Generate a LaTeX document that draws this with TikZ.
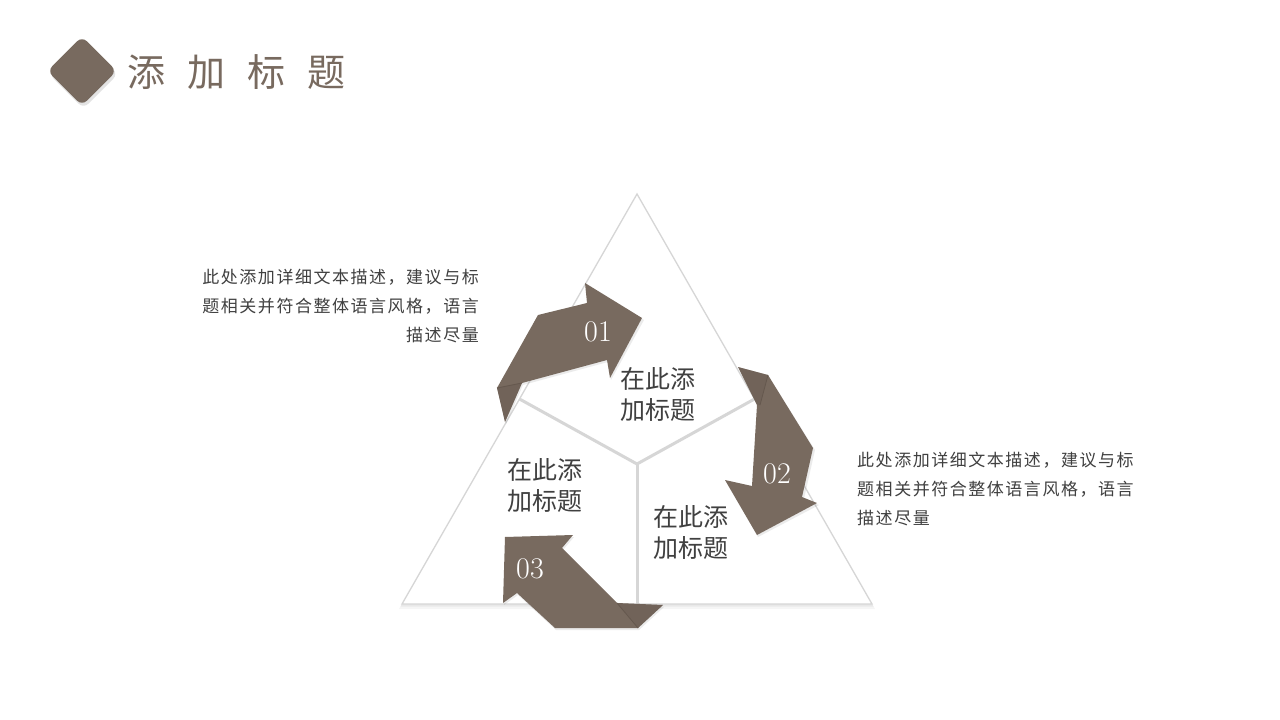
\documentclass[tikz,border=0pt]{standalone}
\usepackage{fontspec}
\newfontfamily\cjk{Noto Sans CJK SC}
\newfontfamily\cjkw{Noto Sans CJK SC}[LetterSpace=9]
\usetikzlibrary{shadows}
\definecolor{mybrown}{HTML}{786A5F}
\definecolor{myfold}{HTML}{65584E}
\definecolor{mytext}{HTML}{404040}
\definecolor{myline}{HTML}{D6D6D6}
\tikzset{
  arrowshape/.style={fill=mybrown, draw=none},
  foldline/.style={draw=myfold, line width=0.8},
  numlabel/.style={text=white, font=\fontsize{30}{30}\selectfont, inner sep=0},
  seglabel/.style={text=mytext, font=\cjk\fontsize{25}{31}\selectfont, align=left, inner sep=0},
  desc/.style={text=mytext, font=\cjkw\fontsize{17}{29}\selectfont, inner sep=0},
  divider/.style={draw=myline, line width=3}
}
\begin{document}
\begin{tikzpicture}[x=1pt,y=-1pt]
\useasboundingbox (0,0) rectangle (1280,720);
\fill[white] (0,0) rectangle (1280,720);

% header
\node[rectangle, rounded corners=7, fill=mybrown, minimum size=49, rotate=45,
      drop shadow={opacity=0.22, shadow xshift=1.5pt, shadow yshift=-3pt}] (dia) at (82,71) {};
\node[anchor=west, text=mybrown, inner sep=0, font=\cjk\fontsize{38}{38}\selectfont] (title) at (127,72)
  {添\hspace{22pt}加\hspace{22pt}标\hspace{22pt}题};

% triangle
\coordinate (A) at (637,194);
\coordinate (B) at (402,604);
\coordinate (C) at (872,604);
\coordinate (O) at (637,464);
\coordinate (MAB) at (519.5,399);
\coordinate (MAC) at (754.5,399);
\coordinate (MBC) at (637,604);
\fill[black, opacity=0.04] ([yshift=-5pt]A) -- ([yshift=-5pt,xshift=-3pt]B) -- ([yshift=-5pt,xshift=3pt]C) -- cycle;
\fill[black, opacity=0.05] ([yshift=-2.5pt]A) -- ([yshift=-2.5pt,xshift=-1.5pt]B) -- ([yshift=-2.5pt,xshift=1.5pt]C) -- cycle;
\filldraw[fill=white, draw=myline, line width=1.3] (A) -- (B) -- (C) -- cycle;
\draw[divider] (MAB) -- (O) -- (MAC);
\draw[divider] (O) -- (MBC);

% arrow 01
\fill[black, opacity=0.08] (506,424) -- (498,390) -- (539,317) -- (588,305) -- (586,285) -- (644,320) -- (611,380) -- (608,362) -- (523,385) -- cycle;
\fill[arrowshape] (505,422) -- (497,388) -- (538,315) -- (587,303) -- (585,283) -- (642,318) -- (610,378) -- (607,360) -- (522,383) -- cycle;
\fill[myfold, opacity=0.35] (505,422) -- (497,388) -- (522,383) -- cycle;
\draw[foldline] (497,388) -- (522,383);

% arrow 02
\fill[black, opacity=0.08] (739,369) -- (769,377) -- (815,450) -- (804,499) -- (819,505) -- (758,537) -- (726,482) -- (753,488) -- (758,407) -- cycle;
\fill[arrowshape] (738,367) -- (768,375) -- (813,448) -- (802,497) -- (817,503) -- (757,535) -- (725,480) -- (752,486) -- (757,405) -- cycle;
\fill[myfold, opacity=0.35] (738,367) -- (768,375) -- (760,405) -- (757,405) -- cycle;
\draw[foldline] (768,375) -- (760,405);

% arrow 03
\fill[black, opacity=0.08] (506,539) -- (574,537) -- (563,550) -- (618,605) -- (664,607) -- (639,630) -- (556,630) -- (518,595) -- (504,605) -- cycle;
\fill[arrowshape] (505,537) -- (573,535) -- (562,548) -- (617,603) -- (663,605) -- (638,628) -- (555,628) -- (517,593) -- (503,603) -- cycle;
\fill[myfold, opacity=0.35] (617,603) -- (663,605) -- (638,628) -- cycle;
\draw[foldline] (617,603) -- (638,628);

% numbers
\node[numlabel] (n1) at (598,332) {01};
\node[numlabel] (n2) at (777,474) {02};
\node[numlabel] (n3) at (530,569) {03};

% segment labels
\node[seglabel] (s1) at (658,395) {在此添\\加标题};
\node[seglabel] (s2) at (545,486) {在此添\\加标题};
\node[seglabel] (s3) at (691,533) {在此添\\加标题};

% descriptions
\node[desc, anchor=east, align=right] (d1) at (479,306)
  {此处添加详细文本描述，建议与标\\题相关并符合整体语言风格，语言\\描述尽量};
\node[desc, anchor=west, align=left] (d2) at (857,489)
  {此处添加详细文本描述，建议与标\\题相关并符合整体语言风格，语言\\描述尽量};
\end{tikzpicture}
\end{document}
